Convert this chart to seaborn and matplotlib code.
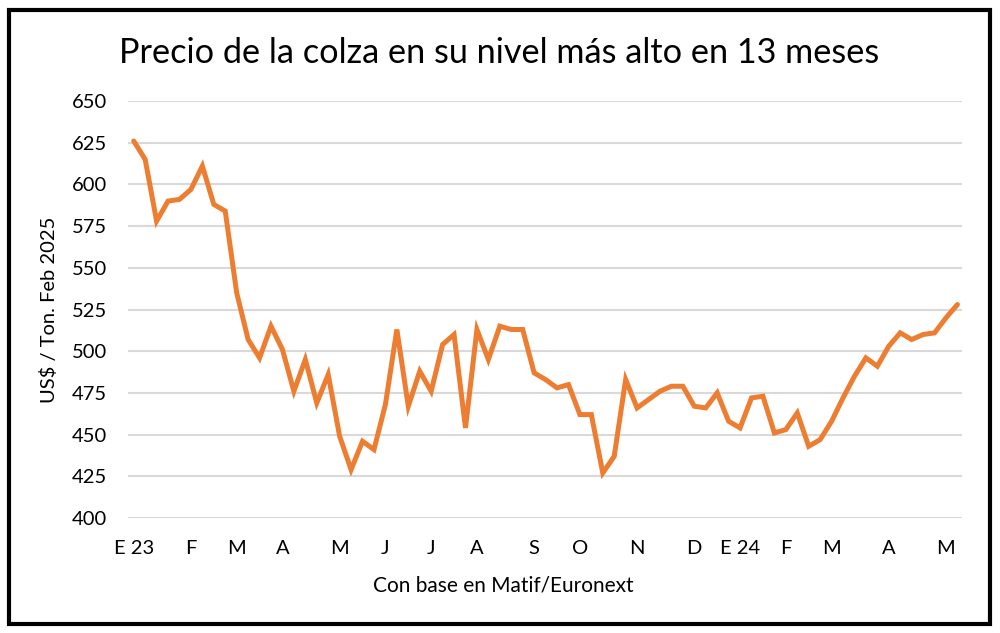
import matplotlib
matplotlib.use("Agg")
import matplotlib.pyplot as plt
import seaborn as sns
import pandas as pd
import numpy as np
from matplotlib.patches import Rectangle

# ---- data ----
prices = [626, 615, 578, 590, 591, 597, 611, 588, 584, 535,
          507, 496, 515, 501, 476, 495, 469, 486, 449, 429,
          446, 441, 468, 513, 467, 488, 476, 504, 510, 454,
          513, 495, 515, 513, 513, 487, 483, 478, 480, 462,
          462, 427, 437, 483, 466, 471, 476, 479, 479, 467,
          466, 475, 458, 454, 472, 473, 451, 453, 463, 443,
          447, 458, 472, 485, 496, 491, 503, 511, 507, 510,
          511, 520, 528]
week_index = list(range(len(prices)))
tick_positions = [0, 5, 9, 13, 18, 22, 26, 30, 35, 39, 44, 49, 53, 57, 61, 66, 71]
tick_labels = ["E 23", "F", "M", "A", "M", "J", "J", "A", "S", "O", "N", "D",
               "E 24", "F", "M", "A", "M"]
y_ticks = [400, 425, 450, 475, 500, 525, 550, 575, 600, 625, 650]

title = "Precio de la colza en su nivel más alto en 13 meses"
ylabel = "US$ / Ton. Feb 2025"
xlabel = "Con base en Matif/Euronext"

df = pd.DataFrame({"semana": week_index, "precio": prices})

sns.set_theme(style="white")
plt.rcParams["font.family"] = ["Lato", "DejaVu Sans"]

fig = plt.figure(figsize=(10, 6.33), dpi=100)
ax = fig.add_axes([0.128, 1 - 518 / 633, (962 - 128) / 1000, (518 - 101) / 633])

sns.lineplot(data=df, x="semana", y="precio", ax=ax, color="#ED7D31",
             linewidth=3.6, solid_joinstyle="miter")

ax.set_ylim(400, 650)
ax.set_xlim(-0.5, 72.4)
ax.set_yticks(y_ticks)
ax.set_xticks(tick_positions)
ax.set_xticklabels(tick_labels)
ax.yaxis.grid(True, color="#D9D9D9", linewidth=1.5)
ax.xaxis.grid(False)
for s in ax.spines.values():
    s.set_visible(False)
ax.tick_params(axis="both", length=0, labelsize=14.5, colors="#000000")
ax.tick_params(axis="y", pad=15)
ax.tick_params(axis="x", pad=16)

ax.set_ylabel(ylabel, fontsize=14.5, color="#000000", va="center")
ax.yaxis.set_label_coords((49 - 128) / 834, 0.5)
ax.set_xlabel(xlabel, fontsize=15, color="#000000", va="center")
ax.xaxis.set_label_coords((503 - 128) / 834, (518 - 585) / 417)

fig.text(0.499, 1 - 63 / 633, title, ha="center", va="baseline",
         fontsize=24.7, color="#000000")

fig.patches.append(Rectangle((9 / 1000, 1 - 624 / 633), (990 - 9) / 1000, (624 - 10) / 633,
                             transform=fig.transFigure, fill=False,
                             edgecolor="#000000", linewidth=3))

fig.savefig("out.png", dpi=100, facecolor="white")
